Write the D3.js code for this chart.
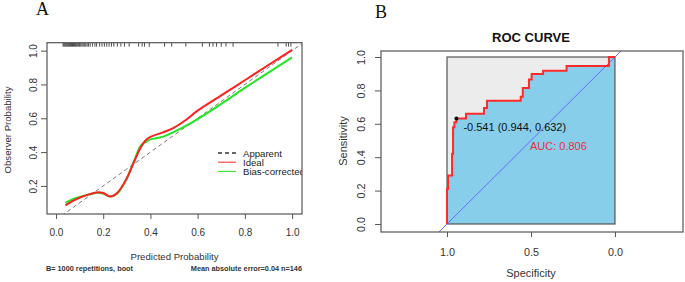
<!DOCTYPE html>
<html>
<head>
<meta charset="utf-8">
<script src="https://cdn.jsdelivr.net/npm/d3@7"></script>
<style>
  body { margin: 0; background: #fff; }
  svg { display: block; font-family: "Liberation Sans", Arial, sans-serif; }
</style>
</head>
<body>
<svg id="chart" width="685" height="282"></svg>
<script>
// ---- data: calibration (panel A) ----
const calX      = [0.04, 0.07, 0.10, 0.14, 0.18, 0.20, 0.23, 0.26, 0.30, 0.33, 0.36, 0.38, 0.40, 0.45, 0.50, 0.55, 0.60, 0.70, 0.80, 0.90, 1.00];
const idealY    = [0.085, 0.11, 0.13, 0.15, 0.162, 0.158, 0.138, 0.16, 0.245, 0.34, 0.43, 0.47, 0.49, 0.515, 0.545, 0.59, 0.645, 0.735, 0.825, 0.915, 1.005];
const biasY     = [0.10, 0.12, 0.135, 0.15, 0.16, 0.155, 0.137, 0.155, 0.245, 0.345, 0.44, 0.46, 0.475, 0.49, 0.52, 0.555, 0.595, 0.685, 0.78, 0.87, 0.96];
const rugX      = [0.03, 0.034, 0.038, 0.042, 0.046, 0.05, 0.054, 0.058, 0.062, 0.066, 0.07, 0.074, 0.078, 0.082, 0.086, 0.09,
                   0.095, 0.10, 0.105, 0.11, 0.115, 0.12, 0.126, 0.132, 0.138, 0.145, 0.155, 0.165, 0.172, 0.185, 0.195, 0.205,
                   0.215, 0.225, 0.235, 0.245, 0.26, 0.275, 0.29, 0.31, 0.35, 0.365, 0.375, 0.395, 0.46, 0.49, 0.55,
                   0.62, 0.65, 0.665, 0.68, 0.70, 0.72, 0.75, 0.94, 0.975, 0.985, 0.995];
const calTicksX = [0, 0.2, 0.4, 0.6, 0.8, 1.0];
const calTicksY = [0.2, 0.4, 0.6, 0.8, 1.0];
const legendLabels = ["Apparent", "Ideal", "Bias-corrected"];

// ---- data: ROC (panel B) ----
const rocSpec = [1.000, 1.000, 0.994, 0.970, 0.964, 0.956, 0.944, 0.887, 0.780, 0.762, 0.561, 0.549, 0.512, 0.496, 0.428, 0.288, 0.036, 0.000];
const rocSens = [0.000, 0.210, 0.290, 0.420, 0.580, 0.610, 0.632, 0.660, 0.695, 0.738, 0.762, 0.814, 0.866, 0.898, 0.918, 0.946, 1.000, 1.000];
const rocTicksX = [1.0, 0.5, 0.0];
const rocTicksY = [0.0, 0.2, 0.4, 0.6, 0.8, 1.0];
const bestThr = { label: "-0.541 (0.944, 0.632)", spec: 0.944, sens: 0.632 };
const aucText = "AUC: 0.806";

const svg = d3.select("#chart");
const axisCol = "#555";
const textCol = "#333";
const defs = svg.append("defs");

function clipFor(id, x, y) {
  const [x0, x1] = x.range(), [y0, y1] = y.range();
  defs.append("clipPath").attr("id", id).append("rect")
    .attr("x", Math.min(x0, x1)).attr("y", Math.min(y0, y1))
    .attr("width", Math.abs(x1 - x0)).attr("height", Math.abs(y1 - y0));
}

function frame(g, x, y, opts) {
  const [x0, x1] = x.range(), [y0, y1] = y.range();
  g.append("rect")
    .attr("x", Math.min(x0, x1)).attr("y", Math.min(y0, y1))
    .attr("width", Math.abs(x1 - x0)).attr("height", Math.abs(y1 - y0))
    .attr("fill", "none").attr("stroke", axisCol).attr("stroke-width", 1.2);

  const xa = g.append("g").attr("transform", `translate(0,${y0})`)
    .call(d3.axisBottom(x).tickValues(opts.xt).tickSize(5).tickFormat(d3.format(".1f")));
  xa.select(".domain").remove();
  xa.selectAll("line").attr("stroke", axisCol);
  xa.selectAll("text").attr("y", opts.xLabOff).attr("dy", null)
    .attr("fill", textCol).style("font-size", opts.fs + "px");

  const ya = g.append("g").attr("transform", `translate(${Math.min(x0, x1)},0)`)
    .call(d3.axisLeft(y).tickValues(opts.yt).tickSize(6).tickFormat(d3.format(".1f")));
  ya.select(".domain").remove();
  ya.selectAll("line").attr("stroke", axisCol);
  ya.selectAll("text").attr("transform", "rotate(-90)")
    .attr("text-anchor", "middle").attr("x", 0).attr("y", -opts.yLabOff).attr("dy", null)
    .attr("fill", textCol).style("font-size", opts.fs + "px");
}

// ================= Panel A =================
const xA = d3.scaleLinear().domain([-0.038, 1.042]).range([47, 302]);
const yA = d3.scaleLinear().domain([0.034, 1.047]).range([214, 42.7]);
const gA = svg.append("g");
clipFor("clipA", xA, yA);

svg.append("text").attr("x", 36).attr("y", 15)
  .style("font-family", '"Liberation Serif", "Times New Roman", serif')
  .style("font-size", "18px").attr("fill", "#111").text("A");

const plotA = gA.append("g").attr("clip-path", "url(#clipA)");

// ideal diagonal (dashed)
plotA.append("line")
  .attr("x1", xA(0)).attr("y1", yA(0)).attr("x2", xA(1.1)).attr("y2", yA(1.1))
  .attr("stroke", "#777").attr("stroke-width", 1).attr("stroke-dasharray", "4,3");

const calLine = yVals => d3.line()
  .x((d, i) => xA(calX[i])).y((d, i) => yA(yVals[i]))
  .curve(d3.curveCatmullRom.alpha(0.5))(calX);

plotA.append("path").attr("d", calLine(biasY))
  .attr("fill", "none").attr("stroke", "#22e622").attr("stroke-width", 2);
plotA.append("path").attr("d", calLine(idealY))
  .attr("fill", "none").attr("stroke", "#ff2020").attr("stroke-width", 2);

// rug at top
plotA.selectAll(".rug").data(rugX).enter().append("line")
  .attr("class", "rug")
  .attr("x1", d => xA(d)).attr("x2", d => xA(d))
  .attr("y1", yA.range()[1]).attr("y2", yA.range()[1] + 4)
  .attr("stroke", "#222").attr("stroke-width", 0.8);

// legend
const legA = plotA.append("g");
const legStyle = [
  { stroke: "#333", dash: "4,3" },
  { stroke: "#ff2020", dash: null },
  { stroke: "#22e622", dash: null }
];
legendLabels.forEach((lab, i) => {
  const yy = 153 + i * 9.2;
  legA.append("line").attr("x1", 218).attr("x2", 236).attr("y1", yy).attr("y2", yy)
    .attr("stroke", legStyle[i].stroke).attr("stroke-width", i === 0 ? 1.3 : 1)
    .attr("stroke-dasharray", legStyle[i].dash);
  legA.append("text").attr("x", 243).attr("y", yy + 3.6)
    .attr("fill", "#222").style("font-size", "9.6px").text(lab);
});

frame(gA, xA, yA, { xt: calTicksX, yt: calTicksY, fs: 10, xLabOff: 21.6, yLabOff: 10.4 });

gA.append("text").attr("x", (xA.range()[0] + xA.range()[1]) / 2).attr("y", 260)
  .attr("text-anchor", "middle").attr("fill", textCol).style("font-size", "9.6px")
  .text("Predicted Probability");
gA.append("text").attr("transform", "translate(11,130) rotate(-90)")
  .attr("text-anchor", "middle").attr("fill", textCol).style("font-size", "9.6px")
  .text("Observer Probability");
gA.append("text").attr("x", 46).attr("y", 270.5)
  .attr("fill", textCol).style("font-size", "7.3px").style("font-weight", "bold")
  .text("B= 1000 repetitions, boot");
gA.append("text").attr("x", 302).attr("y", 270.5).attr("text-anchor", "end")
  .attr("fill", textCol).style("font-size", "7.3px").style("font-weight", "bold")
  .text("Mean absolute error=0.04 n=146");

// ================= Panel B =================
const xB = d3.scaleLinear().domain([1.393, -0.405]).range([381, 683]);
const yB = d3.scaleLinear().domain([-0.048, 1.036]).range([232, 51]);
const gB = svg.append("g");
clipFor("clipB", xB, yB);

svg.append("text").attr("x", 375).attr("y", 18)
  .style("font-family", '"Liberation Serif", "Times New Roman", serif')
  .style("font-size", "18px").attr("fill", "#111").text("B");

gB.append("text").attr("x", 531).attr("y", 42).attr("text-anchor", "middle")
  .attr("fill", "#111").style("font-size", "13px").style("font-weight", "bold")
  .text("ROC CURVE");

const plotB = gB.append("g").attr("clip-path", "url(#clipB)");

// background square of the AUC polygon
plotB.append("rect")
  .attr("x", xB(1)).attr("y", yB(1))
  .attr("width", xB(0) - xB(1)).attr("height", yB(0) - yB(1))
  .attr("fill", "#ececec");

const area = d3.area()
  .x((d, i) => xB(rocSpec[i])).y0(yB(0)).y1((d, i) => yB(rocSens[i]))
  .curve(d3.curveStepAfter);
plotB.append("path").attr("d", area(rocSpec)).attr("fill", "#87ceeb");

plotB.append("rect")
  .attr("x", xB(1)).attr("y", yB(1))
  .attr("width", xB(0) - xB(1)).attr("height", yB(0) - yB(1))
  .attr("fill", "none").attr("stroke", "#555").attr("stroke-width", 1.2);

// chance line
const dom = xB.domain();
plotB.append("line")
  .attr("x1", xB(dom[0])).attr("y1", yB(1 - dom[0]))
  .attr("x2", xB(dom[1])).attr("y2", yB(1 - dom[1]))
  .attr("stroke", "#6a6aff").attr("stroke-width", 1);

const rocLine = d3.line()
  .x((d, i) => xB(rocSpec[i])).y((d, i) => yB(rocSens[i]))
  .curve(d3.curveStepAfter);
plotB.append("path").attr("d", rocLine(rocSpec))
  .attr("fill", "none").attr("stroke", "#ff2a2a").attr("stroke-width", 2);

plotB.append("circle").attr("cx", xB(bestThr.spec)).attr("cy", yB(bestThr.sens))
  .attr("r", 2).attr("fill", "#000");
plotB.append("text").attr("x", xB(bestThr.spec) + 7).attr("y", yB(bestThr.sens) + 12.5)
  .attr("fill", "#111").style("font-size", "11px").text(bestThr.label);
plotB.append("text").attr("x", xB(0.5) - 1).attr("y", 150)
  .attr("fill", "#e8303a").style("font-size", "11px").text(aucText);

frame(gB, xB, yB, { xt: rocTicksX, yt: rocTicksY, fs: 10.8, xLabOff: 24, yLabOff: 16 });

gB.append("text").attr("x", xB(0.5)).attr("y", 277).attr("text-anchor", "middle")
  .attr("fill", textCol).style("font-size", "11px").text("Specificity");
gB.append("text").attr("transform", "translate(347,141) rotate(-90)")
  .attr("text-anchor", "middle").attr("fill", textCol).style("font-size", "11px")
  .text("Sensitivity");
</script>
</body>
</html>
